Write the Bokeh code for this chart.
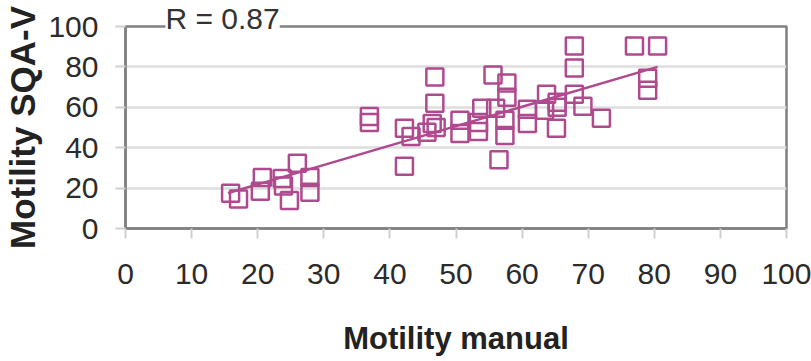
from bokeh.plotting import figure
from bokeh.models import Range1d, FixedTicker, Title
from bokeh.embed import file_html
from bokeh.resources import INLINE

# data
manual = [15.9, 17.1, 20.4, 20.7, 23.7, 23.9, 24.8, 26.0, 27.9, 27.9,
          36.9, 36.9, 42.2, 42.2, 43.2, 46.8, 46.8, 46.4, 45.6, 47.0,
          50.6, 50.6, 53.9, 53.4, 53.4, 55.6, 56.0, 57.7, 57.7, 57.4,
          57.4, 56.5, 60.8, 60.8, 63.7, 63.4, 65.3, 65.2, 65.3, 67.9,
          67.9, 67.9, 69.2, 72.0, 77.0, 80.5, 79.0, 79.0]
sqa = [17.4, 14.6, 18.4, 25.3, 24.8, 21.0, 13.8, 32.3, 25.3, 17.9,
       55.5, 52.5, 49.6, 30.8, 45.5, 75.0, 62.0, 52.0, 47.6, 50.0,
       53.6, 47.0, 59.5, 48.0, 52.5, 76.0, 59.5, 72.0, 65.0, 53.6,
       46.0, 34.0, 59.0, 52.0, 66.5, 58.5, 62.5, 49.6, 60.0, 90.3,
       79.4, 66.5, 60.5, 54.6, 90.3, 90.3, 74.4, 68.5]
trend_x = [15.5, 80.5]
trend_y = [17.5, 80.0]
x_ticks = [0, 10, 20, 30, 40, 50, 60, 70, 80, 90, 100]
y_ticks = [0, 20, 40, 60, 80, 100]
r_text = "R = 0.87"
x_title = "Motility manual"
y_title = "Motility SQA-V"

COL = "#b04a8f"
FONT = "Liberation Sans"

p = figure(width=811, height=361, output_backend="svg", toolbar_location=None,
           x_range=Range1d(0, 100), y_range=Range1d(0, 100),
           min_border_left=120, min_border_right=25, min_border_top=26,
           min_border_bottom=133)
p.background_fill_color = "white"
p.border_fill_color = "white"
p.outline_line_color = "#808080"
p.outline_line_width = 2.5

p.xgrid.grid_line_color = None
p.ygrid.grid_line_color = "#dedede"
p.ygrid.grid_line_width = 2.5
p.xaxis.ticker = FixedTicker(ticks=x_ticks)
p.yaxis.ticker = FixedTicker(ticks=y_ticks)

for ax in (p.xaxis[0], p.yaxis[0]):
    ax.axis_line_color = "#808080"
    ax.axis_line_width = 2.5
    ax.major_tick_line_color = "#d0d0d0"
    ax.major_tick_line_width = 2
    ax.major_tick_out = 10
    ax.major_tick_in = 0
    ax.minor_tick_line_color = None
    ax.major_label_text_font = FONT
    ax.major_label_text_font_size = "30px"
    ax.major_label_text_color = "#2b2b2b"
    ax.axis_label_text_font = FONT
    ax.axis_label_text_font_style = "bold"
    ax.axis_label_text_color = "#222222"

p.xaxis.major_label_standoff = 25
p.yaxis.major_label_standoff = 17
p.xaxis.axis_label = x_title
p.xaxis.axis_label_text_font_size = "31px"
p.xaxis.axis_label_standoff = 34
p.yaxis.axis_label = y_title
p.yaxis.axis_label_text_font_size = "35px"
p.yaxis.axis_label_standoff = 3

p.line(trend_x, trend_y, line_color=COL, line_width=2.5)
p.scatter(manual, sqa, marker="square", size=17, fill_color=None,
          line_color=COL, line_width=2.5)

p.add_layout(Title(text=r_text, align="left", offset=40, standoff=-17,
                   text_font=FONT, text_font_size="30px",
                   text_font_style="normal", text_color="#333333",
                   background_fill_color="white"), "above")

open("out.html", "w").write(file_html(p, INLINE))
